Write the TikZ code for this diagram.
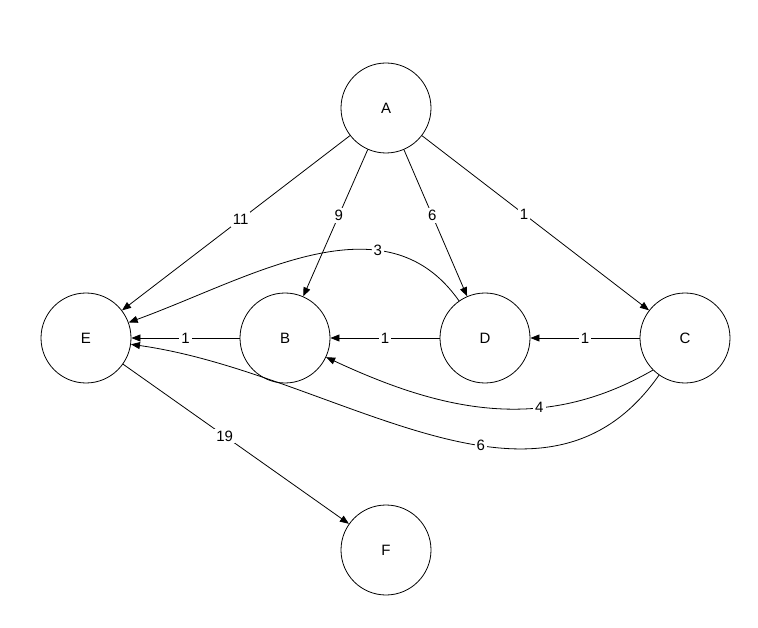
\documentclass[tikz,border=0pt]{standalone}
\usepackage{fontspec}
\setmainfont{Liberation Sans}
\usetikzlibrary{arrows.meta}
\begin{document}
\begin{tikzpicture}[x=1pt,y=-1pt,
  vert/.style={circle,draw,line width=0.8pt,minimum size=90pt,inner sep=0pt,font=\fontsize{15}{15}\selectfont},
  edge/.style={-{Triangle[length=9pt,width=7pt]},line width=0.8pt},
  lab/.style={fill=white,inner sep=2pt,font=\fontsize{15}{15}\selectfont}]
\useasboundingbox (0,0) rectangle (758,628);
\node[vert] (A) at (386,108) {A};
\node[vert] (E) at (86,338) {E};
\node[vert] (B) at (285,338) {B};
\node[vert] (D) at (485,338) {D};
\node[vert] (C) at (685,338) {C};
\node[vert] (F) at (386,550) {F};
\draw[edge] (A) -- node[lab,pos=0.48]{11} (E);
\draw[edge] (A) -- node[lab,pos=0.45]{9} (B);
\draw[edge] (A) -- node[lab,pos=0.45]{6} (D);
\draw[edge] (A) -- node[lab,pos=0.45]{1} (C);
\draw[edge] (D) to[out=125,in=20] node[lab,pos=0.3]{3} (E);
\draw[edge] (B) -- node[lab]{1} (E);
\draw[edge] (D) -- node[lab]{1} (B);
\draw[edge] (C) -- node[lab]{1} (D);
\draw[edge] (C.south west) to[out=-150,in=-25] node[lab,pos=0.35]{4} (B);
\draw[edge] (C) to[out=-125,in=-8] node[lab,pos=0.4]{6} (E);
\draw[edge] (E) -- node[lab,pos=0.45]{19} (F);
\end{tikzpicture}
\end{document}
